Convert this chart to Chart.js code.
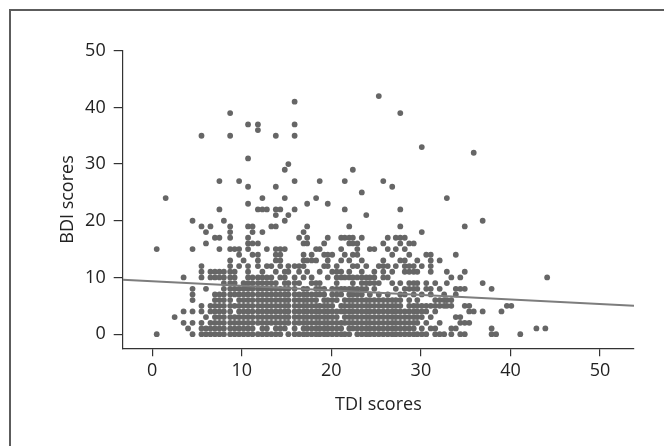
<!DOCTYPE html>
<html>
<head>
<meta charset="utf-8">
<script src="https://cdn.jsdelivr.net/npm/chart.js@4.4.0/dist/chart.umd.min.js"></script>
<style>
  html, body { margin: 0; padding: 0; background: #fff; overflow: hidden; }
  #wrap { position: relative; width: 664px; height: 446px; }
  #frame { position: absolute; left: 9px; top: 9px; width: 700px; height: 500px;
           border-left: 2px solid #5c5c5c; border-top: 2px solid #5c5c5c; }
  canvas { position: absolute; left: 0; top: 0; }
</style>
</head>
<body>
<div id="wrap">
  <div id="frame"></div>
  <canvas id="scatter" width="664" height="446"></canvas>
</div>
<script>
// TDI score columns and the BDI scores
var tdiColumns = [0.5, 1.5, 2.5, 3.5, 4, 4.5, 5.5, 6, 6.5, 7, 7.5, 8, 8.7, 9.2, 9.7, 10.2, 10.7, 11.2, 11.8, 12.3,
  12.8, 13.3, 13.8, 14.3, 14.8, 15.2, 15.9, 16.4, 16.9, 17.3, 17.8, 18.3, 18.7, 19.2, 19.6, 20.1, 20.6, 21.1, 21.5, 22,
  22.4, 22.9, 23.4, 23.9, 24.3, 24.8, 25.3, 25.8, 26.3, 26.8, 27.2, 27.7, 28.2, 28.7, 29.2, 29.6, 30.1, 30.6, 31.1, 31.6,
  32.1, 32.6, 32.9, 33.4, 33.9, 34.4, 34.9, 35.4, 35.9, 36.9, 37.9, 38.4, 39, 39.6, 40.1, 41.1, 42.9, 43.9, 44.1];
var bdiColumns = [
  [0, 15], [24], [3], [2, 4, 10], [1],
  [0, 2, 4, 6, 7, 8, 15, 20],
  [0, 1, 2, 4, 5, 10, 11, 12, 19, 35],
  [0, 1, 3, 8, 16, 18],
  [0, 1, 2, 4, 5, 10, 11, 19],
  [0, 1, 2, 3, 4, 5, 6, 7, 10, 11, 17],
  [0, 1, 2, 3, 4, 5, 6, 7, 10, 11, 15, 17, 22, 27],
  [0, 1, 2, 3, 4, 5, 6, 7, 8, 9, 10, 11, 20],
  [0, 1, 2, 3, 4, 5, 6, 7, 8, 9, 10, 11, 12, 13, 15, 17, 18, 19, 35, 39],
  [0, 1, 2, 3, 5, 7, 8, 9, 10, 11, 15],
  [0, 1, 2, 3, 4, 5, 6, 7, 8, 12, 14, 15, 27],
  [0, 1, 2, 3, 4, 5, 6, 7, 8, 9, 13],
  [0, 1, 2, 3, 4, 5, 6, 7, 8, 9, 10, 11, 12, 15, 16, 17, 19, 23, 26, 31, 37],
  [0, 1, 2, 3, 4, 5, 6, 7, 8, 9, 10, 14, 16, 18, 19],
  [0, 2, 3, 4, 5, 6, 7, 8, 9, 10, 12, 13, 14, 16, 22, 36, 37],
  [0, 1, 2, 3, 4, 5, 6, 7, 8, 9, 10, 11, 18, 22, 24],
  [0, 1, 2, 3, 4, 5, 6, 7, 8, 9, 10, 12, 15, 22],
  [0, 2, 3, 4, 5, 6, 7, 8, 9, 10, 12, 19],
  [0, 1, 2, 3, 4, 5, 6, 7, 8, 9, 11, 13, 14, 15, 19, 21, 22, 26, 35],
  [0, 1, 2, 3, 4, 5, 6, 7, 8, 10, 12, 13, 14, 15, 22],
  [1, 2, 3, 4, 5, 6, 7, 8, 9, 10, 11, 15, 20, 24, 29],
  [0, 2, 3, 4, 5, 6, 7, 8, 9, 11, 12, 21, 30],
  [0, 1, 2, 3, 4, 5, 6, 7, 8, 9, 10, 12, 22, 27, 35, 37, 41],
  [0, 2, 3, 4, 5, 6, 7, 9, 11, 12, 17],
  [0, 1, 2, 3, 4, 5, 6, 7, 8, 10, 12, 13, 14, 16, 18],
  [0, 1, 2, 3, 4, 5, 6, 7, 8, 11, 13, 16, 17, 19, 23],
  [0, 1, 2, 3, 4, 5, 6, 7, 9, 10, 13, 14],
  [0, 1, 2, 3, 4, 5, 6, 7, 8, 9, 13, 15, 24],
  [0, 1, 2, 3, 4, 5, 7, 8, 9, 11, 15, 27],
  [0, 1, 2, 3, 4, 5, 6, 7, 8, 12, 14, 16],
  [0, 1, 2, 3, 4, 5, 6, 10, 12, 13, 14, 17, 23],
  [0, 1, 2, 3, 4, 5, 6, 7, 8, 11, 14],
  [0, 1, 2, 3, 4, 6, 7, 8, 9, 10, 11, 12],
  [0, 1, 2, 4, 5, 7, 8, 10, 11, 13, 15, 17],
  [0, 2, 3, 4, 5, 6, 8, 10, 14, 17, 22, 27],
  [0, 1, 2, 3, 4, 5, 6, 7, 8, 10, 11, 13, 16, 17, 19],
  [1, 2, 3, 4, 5, 6, 7, 8, 9, 10, 12, 14, 16, 17, 29],
  [0, 1, 2, 3, 4, 5, 6, 7, 8, 10, 12, 14, 15, 16],
  [0, 1, 2, 3, 4, 5, 6, 7, 8, 9, 10, 11, 13, 17, 25],
  [0, 1, 2, 3, 4, 5, 6, 8, 9, 10, 12, 21],
  [0, 1, 2, 3, 4, 5, 6, 7, 9, 10, 15],
  [0, 1, 2, 3, 4, 5, 6, 8, 9, 10, 11, 15],
  [0, 1, 2, 3, 4, 5, 6, 7, 9, 12, 42],
  [0, 1, 2, 3, 4, 5, 6, 10, 11, 12, 13, 16, 27],
  [0, 1, 2, 3, 4, 5, 6, 7, 10, 12, 15, 17],
  [0, 1, 2, 3, 4, 5, 6, 9, 11, 14, 26],
  [0, 1, 2, 3, 4, 5, 6, 8, 12, 15, 17],
  [0, 1, 2, 3, 4, 5, 6, 7, 9, 13, 16, 17, 19, 22, 39],
  [0, 1, 2, 3, 4, 7, 8, 11, 12, 13, 15, 17],
  [0, 1, 2, 3, 4, 5, 6, 8, 9, 11, 12, 14, 16],
  [0, 1, 2, 3, 4, 5, 7, 8, 9, 11, 12, 16],
  [0, 2, 3, 4, 5, 6, 8, 9, 11, 13],
  [0, 1, 3, 4, 5, 7, 12, 18, 33],
  [0, 2, 4, 5, 8, 9, 14],
  [1, 3, 5, 7, 8, 11, 12, 13, 14],
  [0, 1, 4, 5, 6, 9],
  [0, 2, 5, 6, 8, 13],
  [0, 5, 6, 7],
  [5, 6, 9, 11, 24],
  [0, 1, 5, 6, 10],
  [1, 3, 7, 8, 14],
  [0, 2, 3, 8, 10],
  [0, 2, 5, 8, 11, 19],
  [2, 4, 5],
  [4, 32],
  [4, 9, 20],
  [0, 1, 8],
  [0], [4], [5], [5], [0], [1], [1], [10]
];

// fitted regression line (ends at the axis limits)
var fitTdi = [-3.3, 53.8];
var fitBdi = [9.58, 5.0];

var xTicks = [0, 10, 20, 30, 40, 50];
var yTicks = [0, 10, 20, 30, 40, 50];

var points = [];
tdiColumns.forEach(function (x, i) {
  bdiColumns[i].forEach(function (y) { points.push({x: x, y: y}); });
});
var fitLine = fitTdi.map(function (x, i) { return {x: x, y: fitBdi[i]}; });

Chart.defaults.font.family = '"Open Sans", sans-serif';
Chart.defaults.color = '#222';

var ctx = document.getElementById('scatter').getContext('2d');
var chart = new Chart(ctx, {
  type: 'scatter',
  data: {
    datasets: [{
      data: points,
      backgroundColor: '#666666',
      borderWidth: 0,
      pointRadius: 2.9,
      order: 2
    }, {
      type: 'line',
      data: fitLine,
      borderColor: '#7d7d7d',
      borderWidth: 2,
      pointRadius: 0,
      fill: false,
      order: 1
    }]
  },
  options: {
    responsive: false,
    animation: false,
    layout: { padding: { left: 0, top: 50.7, right: 30, bottom: 0 } },
    plugins: { legend: { display: false }, tooltip: { enabled: false } },
    scales: {
      x: {
        type: 'linear',
        min: -3.3,
        max: 53.8,
        afterBuildTicks: function (s) { s.ticks = xTicks.map(function (v) { return {value: v}; }); },
        afterFit: function (s) { s.height = 97.7; },
        grid: { drawOnChartArea: false, drawTicks: true, tickLength: 8, color: '#333', lineWidth: 1.2 },
        border: { color: '#333', width: 1.2 },
        ticks: { padding: 4, font: { size: 18 }, color: '#222' },
        title: { display: true, text: 'TDI scores', font: { size: 18 }, color: '#222', padding: { top: 0, bottom: 30 } }
      },
      y: {
        type: 'linear',
        min: -2.5,
        max: 50,
        afterBuildTicks: function (s) { s.ticks = yTicks.map(function (v) { return {value: v}; }); },
        afterFit: function (s) { s.width = 122.7; },
        grid: { drawOnChartArea: false, drawTicks: true, tickLength: 9, color: '#333', lineWidth: 1.2 },
        border: { color: '#333', width: 1.2 },
        ticks: { padding: 8, font: { size: 18 }, color: '#222' },
        title: { display: true, text: 'BDI scores', font: { size: 18 }, color: '#222', padding: { top: 57, bottom: 0 } }
      }
    }
  }
});
</script>
</body>
</html>
